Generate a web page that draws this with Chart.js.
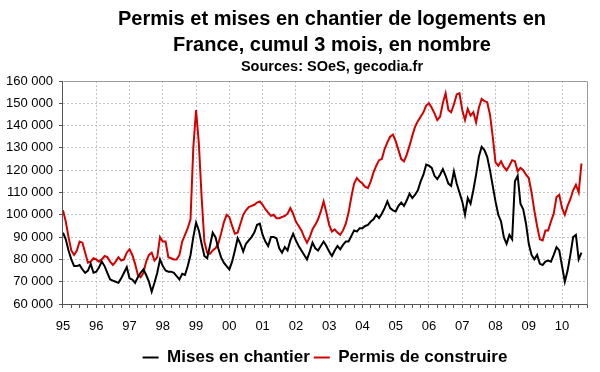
<!DOCTYPE html>
<html>
<head>
<meta charset="utf-8">
<script src="https://cdn.jsdelivr.net/npm/chart.js@4"></script>
<style>
html,body{margin:0;padding:0;background:#fff;}
#wrap{width:600px;height:372px;position:relative;}
</style>
</head>
<body>
<div id="wrap"><canvas id="c" width="600" height="372"></canvas></div>
<script>
// ---- Data (thousands of dwellings, monthly, Jan 1995 .. Aug 2010) ----
const titleLines = ['Permis et mises en chantier de logements en', 'France, cumul 3 mois, en nombre'];
const sourceLine = 'Sources: SOeS, gecodia.fr';
const seriesNames = ['Mises en chantier', 'Permis de construire'];
const yearLabels = ['95','96','97','98','99','00','01','02','03','04','05','06','07','08','09','10'];

const mises = [
  92, 89, 84, 80, 77, 77, 77.5, 75.5, 74, 75, 78, 74,          // 1995
  74.5, 76.5, 79, 77, 74, 71, 70.5, 70, 69.5, 71.5, 74, 76.5,  // 1996
  71.5, 71, 69.5, 72, 74, 75.5, 73, 70, 65.5, 69.5, 74, 80,    // 1997
  77, 75, 74.5, 74.5, 74, 72.5, 71, 73.5, 73, 77, 82, 90,      // 1998
  96.5, 93, 87, 81.5, 80.5, 86, 92, 90, 85, 81, 78.5, 77,      // 1999
  75.5, 79, 84, 89.5, 87, 83.5, 87, 88.5, 90, 92, 95.5, 96,    // 2000
  91, 88, 86, 90, 90, 89.5, 85, 83, 85.5, 84, 88.5, 91.5,      // 2001
  88.5, 86, 84, 82, 80, 83.5, 87.5, 85, 84, 86, 88, 86,        // 2002
  83.5, 81.5, 84, 86, 84.5, 86.5, 88, 88, 90.5, 93, 92.5, 94,  // 2003
  94, 95, 95.5, 97, 98, 100, 98.5, 100.5, 103, 106, 103, 102,  // 2004
  101.5, 104, 105.5, 104, 106.5, 109.5, 107.5, 109, 111, 115, 118, 122.5, // 2005
  122, 121, 117.5, 116, 118, 120.5, 117.5, 114, 113, 119.5, 114, 110,     // 2006
  106, 100, 107.5, 105, 111, 118, 126, 130.5, 129, 126, 120, 113,         // 2007
  106, 100, 97, 90, 87, 91, 89, 115, 117.5, 105, 102.5, 96,               // 2008
  87, 82, 80, 82, 78, 77.5, 79, 79.5, 79, 82, 85.5, 84,                   // 2009
  77, 70, 75, 82, 90, 91, 80, 83                                           // 2010
];
const permis = [
  102, 97, 90, 84, 82, 84, 88, 87.5, 83, 78.5, 79, 80.5,       // 1995
  80, 79, 80, 81.5, 81, 79, 77.5, 79, 81, 79.5, 80, 83,        // 1996
  84.5, 82, 78, 73, 72, 74, 79, 82, 83, 79.5, 81, 90,          // 1997
  88, 88, 81, 80.5, 80, 80, 82, 88, 91, 94, 98, 130,           // 1998
  147, 132, 108, 88, 83, 82.5, 84, 85, 87, 91.5, 96.5, 100,    // 1999
  99, 95, 91.5, 92, 96, 100, 102, 103.5, 104, 104.5, 105.5, 106, // 2000
  104.5, 102.5, 101, 99.5, 100, 98.5, 98.5, 99, 99.5, 100.5, 103, 100.5, // 2001
  97, 95, 93, 90, 87.5, 90, 93.5, 95.5, 98, 101.5, 106, 101,   // 2002
  95.5, 92.5, 93.5, 92, 91, 93, 96, 101, 108, 114, 116.5, 115, // 2003
  114, 112.5, 112, 115, 119, 122, 124.5, 125, 129.5, 132.5, 135, 136, // 2004
  133, 129, 125, 124, 127, 131, 135.5, 139.5, 142, 144, 146, 149,     // 2005
  150, 148, 145.5, 142.5, 144, 150, 154.5, 147, 146, 149.5, 154, 154.5, // 2006
  147, 142.5, 147.5, 144.5, 146, 141.5, 148, 152, 151, 150.5, 145, 135, // 2007
  123.5, 122, 124, 121.5, 120, 122, 124.5, 124, 119.5, 121, 120, 118,   // 2008
  116.5, 110, 102, 95, 89, 88.5, 93, 93, 97, 100.5, 108, 109,           // 2009
  103, 100, 104, 107, 111, 113.5, 110, 123                              // 2010
];

const toPoints = arr => arr.map((v, i) => ({x: i, y: v * 1000}));
const fmt = v => String(Math.round(v)).replace(/\B(?=(\d{3})+(?!\d))/g, ' ');

const FONT = "'Liberation Sans', Arial, sans-serif";

const titlePlugin = {
  id: 'titles',
  afterDraw(chart) {
    const ctx = chart.ctx;
    ctx.save();
    ctx.fillStyle = '#000';
    ctx.textAlign = 'center';
    ctx.textBaseline = 'alphabetic';
    ctx.font = 'bold 20px ' + FONT;
    ctx.fillText(titleLines[0], 332, 25);
    ctx.fillText(titleLines[1], 332, 51);
    ctx.font = 'bold 14.5px ' + FONT;
    ctx.fillText(sourceLine, 332, 71);
    // plot frame (top/right)
    const a = chart.chartArea;
    ctx.strokeStyle = '#9a9a9a';
    ctx.lineWidth = 1;
    ctx.beginPath();
    ctx.moveTo(Math.round(a.left) + 0.5, Math.round(a.top) + 0.5);
    ctx.lineTo(Math.round(a.right) + 0.5, Math.round(a.top) + 0.5);
    ctx.lineTo(Math.round(a.right) + 0.5, Math.round(a.bottom) + 0.5);
    ctx.stroke();
    ctx.restore();
  }
};

new Chart(document.getElementById('c'), {
  type: 'line',
  data: {
    datasets: [
      {label: seriesNames[0], data: toPoints(mises), borderColor: '#000000', backgroundColor: '#000000',
       borderWidth: 2, pointRadius: 0, tension: 0},
      {label: seriesNames[1], data: toPoints(permis), borderColor: '#d40000', backgroundColor: '#d40000',
       borderWidth: 2, pointRadius: 0, tension: 0}
    ]
  },
  options: {
    responsive: false,
    animation: false,
    layout: {padding: {left: 0, right: 13, top: 81, bottom: -4}},
    plugins: {
      title: {display: false},
      tooltip: {enabled: false},
      legend: {
        position: 'bottom',
        fullSize: false,
        labels: {
          usePointStyle: true, pointStyle: 'line', pointStyleWidth: 16,
          color: '#000', padding: 4,
          font: {family: FONT, size: 17, weight: 'bold'}
        }
      }
    },
    scales: {
      x: {
        type: 'linear', min: 0, max: 189,
        ticks: {
          stepSize: 3, autoSkip: false, maxRotation: 0, padding: 12,
          color: '#000', font: {family: FONT, size: 13, lineHeight: 1},
          callback: v => (v % 12 === 0 ? yearLabels[v / 12] : '')
        },
        grid: {
          color: c => (c.tick && c.tick.value % 12 === 0 && c.tick.value > 0 ? '#c4c4c4' : 'rgba(0,0,0,0)'),
          tickColor: '#555', tickLength: 4, tickBorderDash: []
        },
        border: {display: true, color: '#555', width: 1, dash: [2, 2]}
      },
      y: {
        min: 60000, max: 160000,
        ticks: {
          stepSize: 10000, padding: 6, color: '#000',
          font: {family: FONT, size: 13},
          callback: v => fmt(v)
        },
        grid: {
          color: c => (c.tick && c.tick.value > 60000 && c.tick.value < 160000 ? '#c4c4c4' : 'rgba(0,0,0,0)'),
          tickColor: '#555', tickLength: 4, tickBorderDash: []
        },
        border: {display: true, color: '#555', width: 1, dash: [2, 2]}
      }
    }
  },
  plugins: [titlePlugin]
});
</script>
</body>
</html>
